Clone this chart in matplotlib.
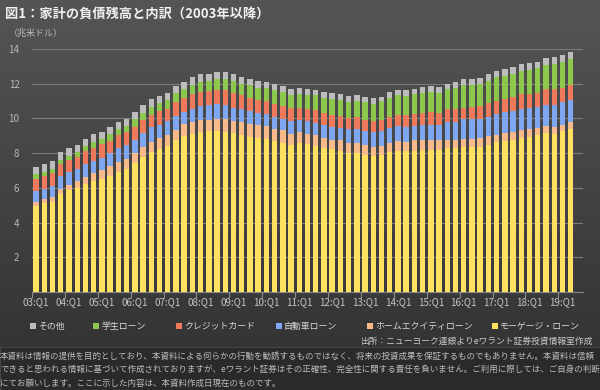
import numpy as np
import matplotlib
matplotlib.use("Agg")
import matplotlib.pyplot as plt
from matplotlib.patches import Rectangle

plt.rcParams['font.family'] = ['Noto Sans CJK JP', 'DejaVu Sans']

# quarters 2003Q1 .. 2019Q2 (trillion USD)
quarters = [f"{y:02d}:Q{q}" for y in range(3, 20) for q in range(1, 5)][:66]

mortgage = [4.96, 5.10, 5.21, 5.67, 5.88, 6.02, 6.23, 6.40, 6.52, 6.69,
            6.94, 7.10, 7.46, 7.79, 8.08, 8.25, 8.42, 8.73, 8.97, 9.12,
            9.23, 9.27, 9.29, 9.23, 9.15, 9.04, 8.92, 8.85, 8.83, 8.71,
            8.60, 8.48, 8.56, 8.52, 8.42, 8.29, 8.21, 8.13, 8.02, 8.02,
            7.92, 7.83, 7.92, 8.04, 8.13, 8.10, 8.15, 8.19, 8.19, 8.17,
            8.27, 8.28, 8.37, 8.37, 8.33, 8.46, 8.62, 8.71, 8.77, 8.88,
            8.94, 9.02, 9.15, 9.12, 9.25, 9.40]
home_equity = [0.23, 0.27, 0.27, 0.29, 0.29, 0.35, 0.40, 0.43, 0.52, 0.56,
               0.54, 0.57, 0.52, 0.58, 0.59, 0.60, 0.60, 0.60, 0.70, 0.69,
               0.67, 0.65, 0.69, 0.75, 0.70, 0.73, 0.75, 0.75, 0.73, 0.69,
               0.71, 0.65, 0.67, 0.61, 0.62, 0.58, 0.56, 0.60, 0.58, 0.58,
               0.54, 0.54, 0.50, 0.52, 0.56, 0.55, 0.60, 0.56, 0.58, 0.58,
               0.50, 0.49, 0.46, 0.46, 0.52, 0.50, 0.45, 0.44, 0.44, 0.47,
               0.44, 0.42, 0.41, 0.40, 0.40, 0.41]
auto = [0.62, 0.57, 0.64, 0.73, 0.73, 0.71, 0.75, 0.71, 0.69, 0.73,
        0.81, 0.79, 0.79, 0.78, 0.81, 0.80, 0.83, 0.79, 0.71, 0.75,
        0.81, 0.83, 0.83, 0.79, 0.77, 0.77, 0.75, 0.69, 0.71, 0.70,
        0.67, 0.74, 0.67, 0.70, 0.71, 0.73, 0.73, 0.73, 0.77, 0.77,
        0.81, 0.84, 0.85, 0.86, 0.87, 0.85, 0.83, 0.87, 0.86, 0.87,
        1.02, 1.03, 1.11, 1.11, 1.13, 1.14, 1.21, 1.20, 1.19, 1.17,
        1.24, 1.23, 1.23, 1.25, 1.29, 1.27]
credit_card = [0.69, 0.75, 0.71, 0.69, 0.72, 0.69, 0.72, 0.75, 0.81, 0.73,
               0.73, 0.75, 0.75, 0.75, 0.73, 0.77, 0.71, 0.84, 0.79, 0.82,
               0.83, 0.83, 0.82, 0.86, 0.82, 0.83, 0.77, 0.79, 0.73, 0.75,
               0.73, 0.71, 0.70, 0.71, 0.73, 0.73, 0.69, 0.69, 0.65, 0.69,
               0.63, 0.62, 0.65, 0.68, 0.63, 0.69, 0.69, 0.71, 0.72, 0.71,
               0.73, 0.72, 0.68, 0.71, 0.73, 0.78, 0.75, 0.77, 0.81, 0.88,
               0.78, 0.81, 0.88, 0.90, 0.83, 0.84]
student = [0.27, 0.24, 0.27, 0.24, 0.21, 0.29, 0.32, 0.33, 0.29, 0.41,
           0.36, 0.37, 0.44, 0.43, 0.44, 0.46, 0.50, 0.48, 0.52, 0.56,
           0.58, 0.57, 0.64, 0.64, 0.69, 0.63, 0.71, 0.69, 0.77, 0.77,
           0.79, 0.79, 0.80, 0.83, 0.85, 0.86, 0.93, 0.91, 0.94, 0.96,
           1.04, 1.02, 1.06, 1.09, 1.14, 1.12, 1.11, 1.13, 1.17, 1.15,
           1.17, 1.24, 1.28, 1.27, 1.29, 1.30, 1.33, 1.34, 1.33, 1.35,
           1.41, 1.42, 1.41, 1.46, 1.50, 1.52]
other = [0.44, 0.44, 0.46, 0.44, 0.46, 0.40, 0.41, 0.46, 0.38, 0.36,
         0.41, 0.40, 0.41, 0.42, 0.47, 0.41, 0.42, 0.43, 0.43, 0.43,
         0.42, 0.43, 0.40, 0.40, 0.41, 0.40, 0.37, 0.40, 0.35, 0.34,
         0.35, 0.34, 0.35, 0.34, 0.32, 0.33, 0.32, 0.34, 0.33, 0.33,
         0.27, 0.30, 0.25, 0.33, 0.29, 0.31, 0.31, 0.33, 0.33, 0.35,
         0.31, 0.36, 0.37, 0.35, 0.35, 0.40, 0.36, 0.37, 0.40, 0.38,
         0.40, 0.35, 0.38, 0.39, 0.36, 0.41]

series = [("モーゲージ・ローン", mortgage, "#FEE15E"),
          ("ホームエクイティローン", home_equity, "#F8B98B"),
          ("自動車ローン", auto, "#7FA7F1"),
          ("クレジットカード", credit_card, "#EE7A5B"),
          ("学生ローン", student, "#8CC84B"),
          ("その他", other, "#BDBDBD")]

fig = plt.figure(figsize=(6, 3.9), dpi=100)

# background gradient
bg = fig.add_axes([0, 0, 1, 1], zorder=-10)
grad = np.linspace(0, 1, 256).reshape(-1, 1)
top = np.array([0x55, 0x55, 0x55]) / 255
bot = np.array([0x30, 0x30, 0x30]) / 255
img = top + (bot - top) * grad[:, :, None]
bg.imshow(img, aspect='auto', extent=[0, 1, 0, 1])
bg.add_patch(Rectangle((0, 0), 1, 43 / 390, facecolor="#2a2a2a",
                       edgecolor="#454545", lw=0.8))
bg.set_xlim(0, 1)
bg.set_ylim(0, 1)
bg.axis('off')

ax = fig.add_axes([32 / 600, 1 - 292 / 390, 551 / 600, 243 / 390])
ax.set_facecolor('none')

x = np.arange(len(quarters))
bottom = np.zeros(len(quarters))
for name, vals, col in series:
    vals = np.array(vals)
    ax.bar(x, vals, bottom=bottom, width=0.66, color=col, zorder=3)
    bottom += vals

ax.set_xlim(-0.5, 66.5)
ax.set_ylim(0, 14)
ax.set_yticks(np.arange(2, 15, 2))
ax.set_yticklabels([str(v) for v in range(2, 15, 2)])
ax.yaxis.grid(True, color="#7c7c7c", lw=0.8, zorder=0)
ax.tick_params(axis='y', length=0, pad=9, labelsize=7, labelcolor="#b8b8b8")

ax.set_xticks(x[::4])
ax.set_xticklabels(quarters[::4])
ax.set_xticks(np.arange(-0.5, 66, 4), minor=True)
ax.tick_params(axis='x', which='major', length=0, pad=4, labelsize=7,
               labelcolor="#c4c4c4")
ax.tick_params(axis='x', which='minor', length=4, color="#8c8c8c", width=0.8)
for s in ['top', 'right', 'left']:
    ax.spines[s].set_visible(False)
ax.spines['bottom'].set_color("#8c8c8c")
ax.spines['bottom'].set_linewidth(0.8)

fig.text(5 / 600, 1 - 14 / 390, "図1：家計の負債残高と内訳（2003年以降）",
         fontsize=9.5, fontweight='bold', color="#f0f0f0", va='center')
fig.text(9 / 600, 1 - 33 / 390, "（兆米ドル）", fontsize=6.5, color="#bdbdbd",
         va='center')

# legend: colored square + label
leg_x = [30, 93, 176, 276, 367, 492]
for (name, vals, col), lx in zip(series[::-1], leg_x):
    fig.patches.append(Rectangle((lx / 600, 1 - 329 / 390), 6 / 600, 6 / 390,
                                 transform=fig.transFigure, figure=fig,
                                 facecolor=col, edgecolor='none'))
    fig.text((lx + 8) / 600, 1 - 326 / 390, name, fontsize=6.4, color="#d8d8d8",
             va='center')

fig.text(592 / 600, 1 - 341 / 390,
         "出所：ニューヨーク連銀よりeワラント証券投資情報室作成",
         fontsize=6.3, color="#c8c8c8", ha='right', va='center')

disclaimer = [
    "本資料は情報の提供を目的としており、本資料による何らかの行動を勧誘するものではなく、将来の投資成果を保証するものでもありません。本資料は信頼",
    "できると思われる情報に基づいて作成されておりますが、eワラント証券はその正確性、完全性に関する責任を負いません。ご利用に際しては、ご自身の判断",
    "にてお願いします。ここに示した内容は、本資料作成日現在のものです。",
]
for i, line in enumerate(disclaimer):
    fig.text(0, 1 - (356 + 13.5 * i) / 390, line, fontsize=6.1,
             color="#bcbcbc", va='center')

fig.savefig("out.png", dpi=100)
